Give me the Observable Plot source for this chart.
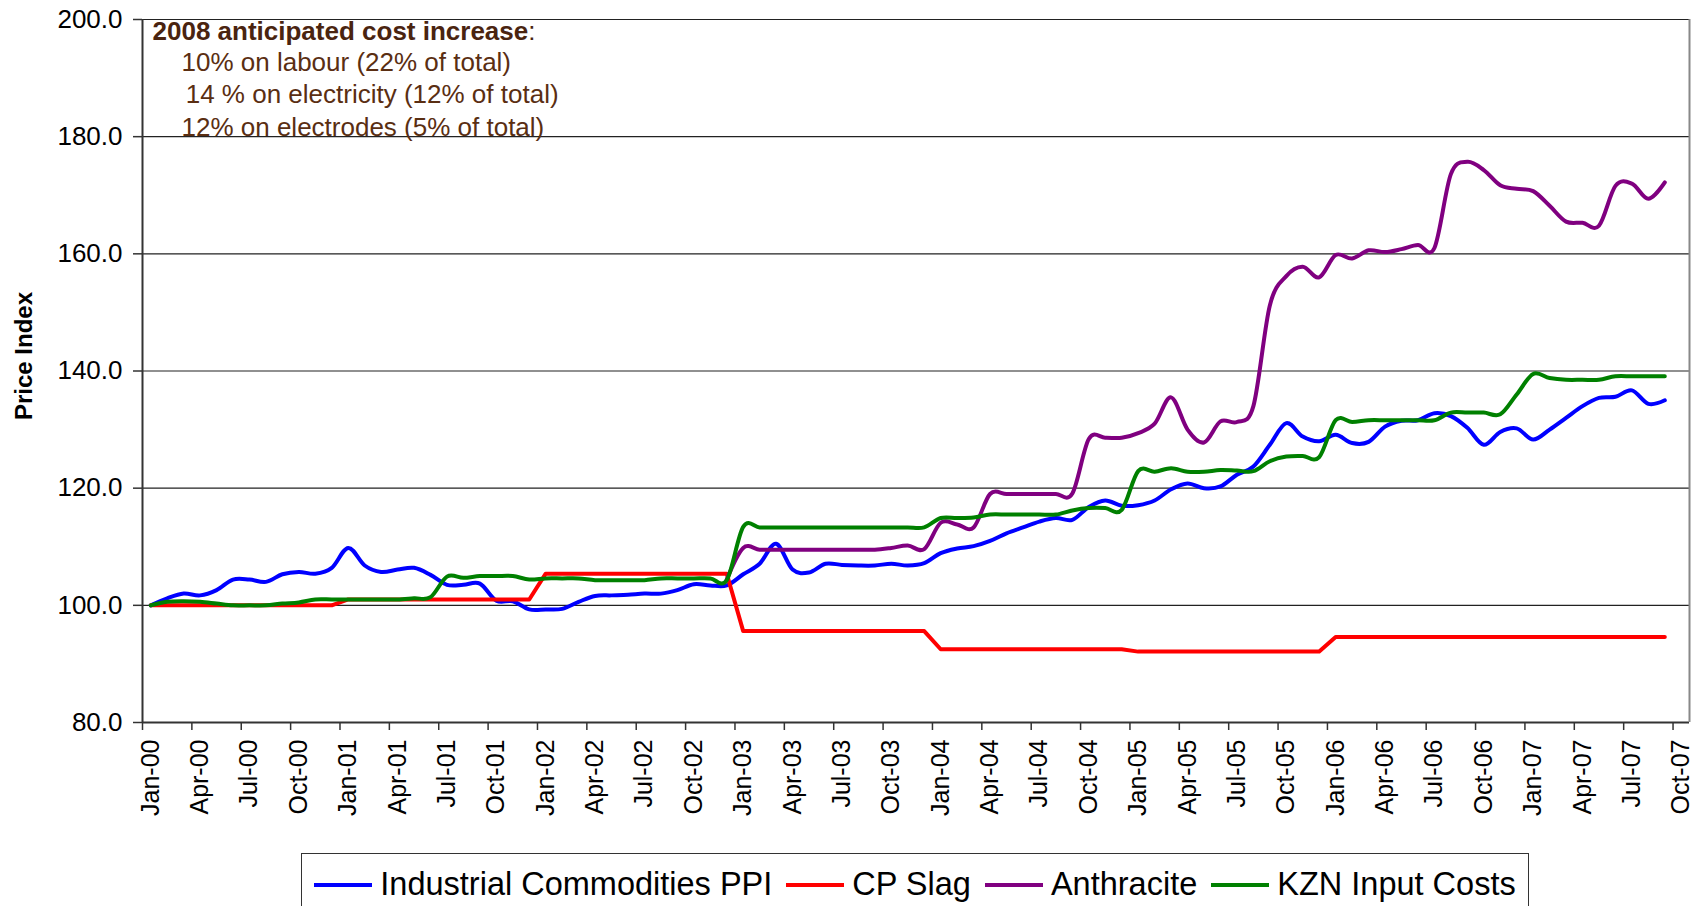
<!DOCTYPE html>
<html>
<head>
<meta charset="utf-8">
<script src="https://cdn.jsdelivr.net/npm/d3@7"></script>
<script src="https://cdn.jsdelivr.net/npm/@observablehq/plot@0.6"></script>
<style>
  html, body { margin: 0; padding: 0; background: #fff; overflow: hidden; }
  body { font-family: "Liberation Sans", Arial, sans-serif; width: 1700px; height: 906px; position: relative; }
  #legend { position: absolute; left: 301px; top: 853px; width: 1228px; height: 70px; box-sizing: border-box;
            border: 1.5px solid #333; display: flex; justify-content: center; align-items: center;
            padding-top: 15px; padding-bottom: 22px; }
  .item { display: flex; align-items: center; margin: 0 7px; font-size: 32.5px; color: #000; white-space: nowrap; }
  .sw { display: inline-block; width: 58px; height: 4px; margin-right: 8px; }
</style>
</head>
<body>
<div id="chart"></div>
<div id="legend"></div>
<script>
// ---- data (monthly, Jan-00 .. Sep-07) ----
const tickLabels = ["Jan-00","Apr-00","Jul-00","Oct-00","Jan-01","Apr-01","Jul-01","Oct-01","Jan-02","Apr-02","Jul-02","Oct-02","Jan-03","Apr-03","Jul-03","Oct-03","Jan-04","Apr-04","Jul-04","Oct-04","Jan-05","Apr-05","Jul-05","Oct-05","Jan-06","Apr-06","Jul-06","Oct-06","Jan-07","Apr-07","Jul-07","Oct-07"];

const seriesNames = ["Industrial Commodities PPI", "CP Slag", "Anthracite", "KZN Input Costs"];
const seriesColors = ["#0000ff", "#ff0000", "#800080", "#008000"];
const seriesSmooth = [true, false, true, true];

const ppi = [100.0,101.2,102.0,101.7,102.6,104.4,104.4,104.0,105.3,105.7,105.4,106.4,
  109.8,106.8,105.7,106.1,106.4,105.2,103.5,103.5,103.7,100.8,100.7,99.3,
  99.3,99.4,100.6,101.6,101.7,101.8,102.0,102.0,102.6,103.6,103.4,103.4,
  105.3,107.1,110.5,106.1,105.6,107.1,106.9,106.8,106.8,107.1,106.8,107.2,
  108.9,109.7,110.1,111.0,112.3,113.3,114.3,114.9,114.6,116.8,117.9,117.0,
  117.1,117.9,119.8,120.8,120.0,120.3,122.3,123.7,127.4,131.1,128.8,128.0,
  129.1,127.7,127.9,130.5,131.5,131.6,132.8,132.3,130.3,127.4,129.6,130.2,
  128.3,130.0,132.0,134.0,135.4,135.6,136.7,134.4,135.0];

const cpSlag = [100.0,100.0,100.0,100.0,100.0,100.0,100.0,100.0,100.0,100.0,100.0,100.0,
  101.0,101.0,101.0,101.0,101.0,101.0,101.0,101.0,101.0,101.0,101.0,101.0,
  105.4,105.4,105.4,105.4,105.4,105.4,105.4,105.4,105.4,105.4,105.4,105.4,
  95.6,95.6,95.6,95.6,95.6,95.6,95.6,95.6,95.6,95.6,95.6,95.6,
  92.5,92.5,92.5,92.5,92.5,92.5,92.5,92.5,92.5,92.5,92.5,92.5,
  92.1,92.1,92.1,92.1,92.1,92.1,92.1,92.1,92.1,92.1,92.1,92.1,
  94.6,94.6,94.6,94.6,94.6,94.6,94.6,94.6,94.6,94.6,94.6,94.6,
  94.6,94.6,94.6,94.6,94.6,94.6,94.6,94.6,94.6];

const anthracite = [null,null,null,null,null,null,null,null,null,null,null,null,
  null,null,null,null,null,null,null,null,null,null,null,null,
  null,null,null,null,null,null,null,null,null,null,null,104.4,
  109.8,109.5,109.5,109.5,109.5,109.5,109.5,109.5,109.5,109.8,110.2,109.6,
  114.1,113.8,113.3,119.0,119.0,119.0,119.0,119.0,119.1,128.4,128.6,128.6,
  129.4,131.0,135.5,130.0,127.8,131.4,131.3,134.0,151.2,156.2,157.8,156.0,
  159.8,159.2,160.6,160.3,160.8,161.5,161.0,173.6,175.7,174.3,171.7,171.1,
  170.7,168.2,165.5,165.3,164.8,171.6,172.0,169.4,172.2];

const kzn = [100.0,100.6,100.7,100.6,100.3,100.0,100.0,100.0,100.3,100.5,101.0,101.0,
  101.0,101.0,101.0,101.0,101.2,101.4,104.9,104.7,105.0,105.0,105.0,104.4,
  104.6,104.6,104.6,104.3,104.3,104.3,104.3,104.6,104.6,104.6,104.6,104.3,
  113.4,113.3,113.3,113.3,113.3,113.3,113.3,113.3,113.3,113.3,113.3,113.3,
  114.9,114.9,115.0,115.5,115.5,115.5,115.5,115.5,116.2,116.6,116.6,116.3,
  122.9,122.8,123.4,122.8,122.8,123.1,123.0,122.9,124.6,125.4,125.5,125.3,
  131.6,131.3,131.6,131.6,131.6,131.6,131.6,132.9,132.9,132.9,132.6,136.0,
  139.5,138.8,138.5,138.5,138.5,139.1,139.1,139.1,139.1];

const yTicks = [80, 100, 120, 140, 160, 180, 200];

const noteTitle = "2008 anticipated cost increase";
const noteLines = ["10% on labour (22% of total)", " 14 % on electricity (12% of total)", "12% on electrodes (5% of total)"];
const yLabel = "Price Index";

// ---- build ----
const allSeries = [ppi, cpSlag, anthracite, kzn];
allSeries.forEach((s, k) => { if (s.length !== 93) throw new Error(seriesNames[k] + " length " + s.length); });

const nCat = tickLabels.length * 3 - 2;            // categories on the axis (Jan-00 .. Oct-07)
const labelPos = tickLabels.map((_, k) => k * 3);  // category centres that carry a label
const tickPos = labelPos.map(p => p - 0.5);        // tick marks sit between categories

const rows = [];
allSeries.forEach((vals, k) => vals.forEach((v, i) => rows.push({i, v, s: seriesNames[k]})));

const font = "'Liberation Sans', Arial, sans-serif";
const brown = "#5a2e12";

const chart = Plot.plot({
  width: 1700,
  height: 850,
  marginLeft: 142,
  marginRight: 11,
  marginTop: 19,
  marginBottom: 128,
  style: {fontFamily: font, background: "#fff", color: "#000", overflow: "visible"},
  x: {domain: [-0.5, nCat - 0.5]},
  y: {domain: [yTicks[0], yTicks[yTicks.length - 1]]},
  marks: [
    Plot.gridY(yTicks.slice(1), {stroke: "#222", strokeOpacity: 1, strokeWidth: 1.2}),
    Plot.axisY(yTicks, {tickSize: 9, tickPadding: 11, fontSize: 26, tickFormat: d => d.toFixed(1),
                        label: null, stroke: "#333", strokeWidth: 1.5, fill: "#000"}),
    Plot.axisX(tickPos, {tickSize: 8, tickFormat: () => "", label: null, stroke: "#333", strokeWidth: 1.5}),
    Plot.axisX(labelPos, {tickSize: 0, tickPadding: 17, tickRotate: -90, fontSize: 25, fill: "#000",
                          tickFormat: p => tickLabels[p / 3], label: null}),
    Plot.ruleX([-0.5], {stroke: "#333", strokeWidth: 2}),
    Plot.ruleY([yTicks[0]], {stroke: "#333", strokeWidth: 2}),
    Plot.ruleX([nCat - 0.5], {stroke: "#888", strokeWidth: 2}),
    ...seriesNames.map((name, k) =>
      Plot.line(rows.filter(r => r.s === name && r.v != null), {
        x: "i", y: "v", stroke: seriesColors[k], strokeWidth: 4,
        curve: seriesSmooth[k] ? "cardinal" : "linear", tension: 0,
        strokeLinejoin: "round", strokeLinecap: "round"
      })),
    Plot.text([yLabel], {frameAnchor: "left", dx: -118, dy: -15, rotate: -90, textAnchor: "middle",
                          fontSize: 24, fontWeight: "bold", fill: "#000"}),
    Plot.text([noteTitle], {frameAnchor: "top-left", dx: 10, dy: 12, lineAnchor: "middle", textAnchor: "start",
                            fontSize: 26, fontWeight: "bold", fill: "#4a2410"}),
    ...noteLines.map((t, k) =>
      Plot.text([t], {frameAnchor: "top-left", dx: [39, 36, 39][k], dy: 43 + k * 32.5, lineAnchor: "middle",
                      textAnchor: "start", fontSize: 26, fill: brown}))
  ]
});
document.getElementById("chart").appendChild(chart);

// non-bold colon after the bold note title
for (const t of chart.querySelectorAll("text")) {
  if (t.textContent === noteTitle) {
    const ts = document.createElementNS("http://www.w3.org/2000/svg", "tspan");
    ts.setAttribute("font-weight", "normal");
    ts.textContent = ":";
    t.appendChild(ts);
    break;
  }
}

// legend
const legend = document.getElementById("legend");
seriesNames.forEach((name, k) => {
  const item = document.createElement("div");
  item.className = "item";
  const sw = document.createElement("span");
  sw.className = "sw";
  sw.style.background = seriesColors[k];
  const tx = document.createElement("span");
  tx.textContent = name;
  item.appendChild(sw);
  item.appendChild(tx);
  legend.appendChild(item);
});
</script>
</body>
</html>
